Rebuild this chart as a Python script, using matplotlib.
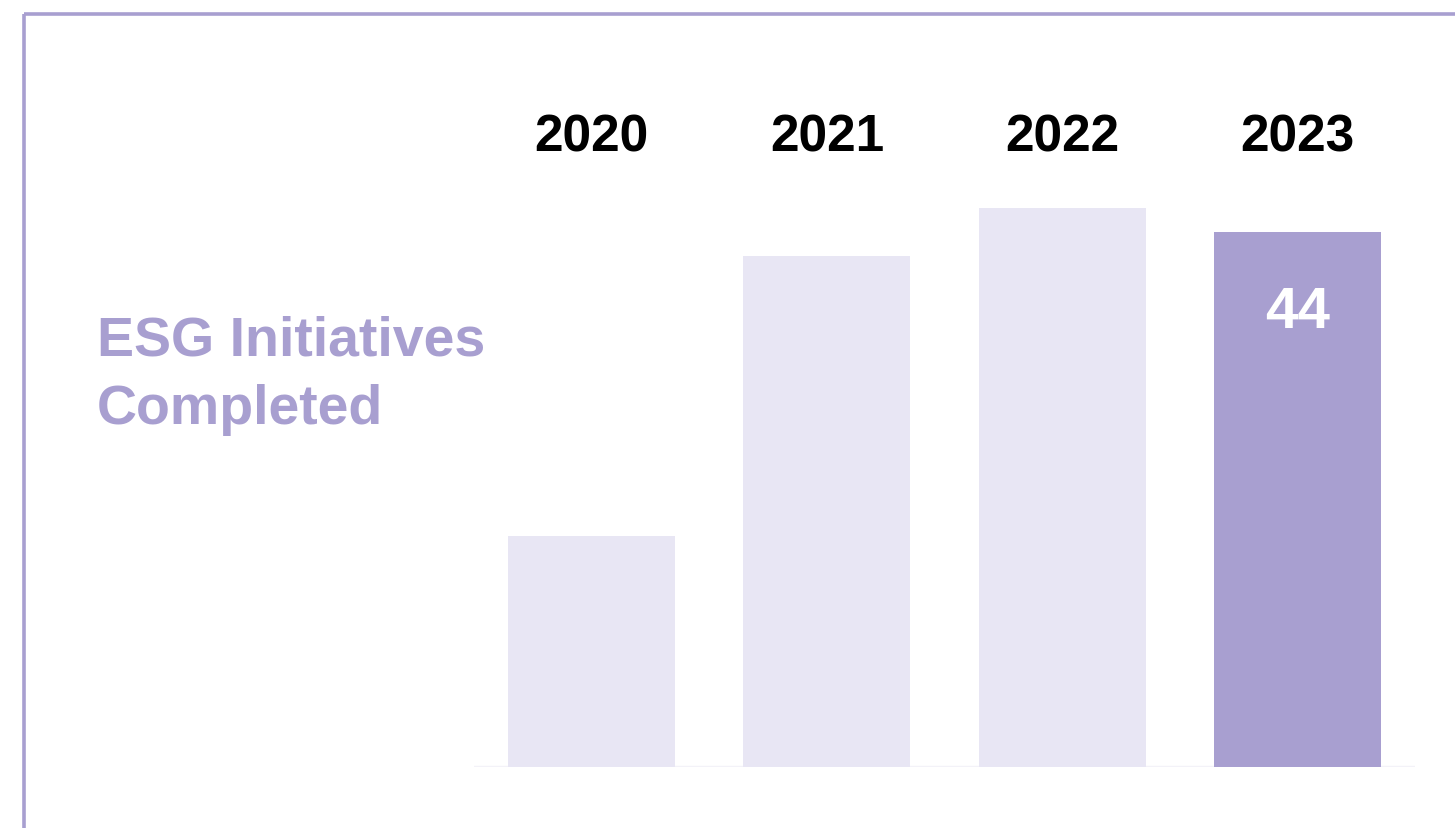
import matplotlib
matplotlib.use("Agg")
import matplotlib.pyplot as plt
from matplotlib.lines import Line2D
from matplotlib.transforms import blended_transform_factory

years = ["2020", "2021", "2022", "2023"]
initiatives = [19, 42, 46, 44]
highlight_year = "2023"

LIGHT = "#E8E6F4"
ACCENT = "#A89FD0"
BASE = "#F3F2F8"

plt.rcParams["font.family"] = ["Liberation Sans", "DejaVu Sans"]

W, H = 1455, 829
fig = plt.figure(figsize=(W / 100, H / 100), dpi=100)
fig.patch.set_facecolor("white")

# frame: top and left lines only
fig.add_artist(Line2D([24 / W, 1.0], [1 - 15 / H, 1 - 15 / H], color=ACCENT, lw=2.6,
                      transform=fig.transFigure, solid_capstyle="butt"))
fig.add_artist(Line2D([24 / W, 24 / W], [1 - 15 / H, 0.0], color=ACCENT, lw=2.6,
                      transform=fig.transFigure, solid_capstyle="butt"))

ax = fig.add_axes([474 / W, (H - 768) / H, 941 / W, 608 / H])
x = list(range(len(years)))
colors = [ACCENT if y == highlight_year else LIGHT for y in years]
ax.bar(x, initiatives, width=0.71, color=colors, zorder=2)
ax.axhline(0, color=BASE, lw=2.4, zorder=1)
ax.set_xlim(-0.5, len(years) - 0.5)
ax.set_ylim(0, 50)
ax.axis("off")

top_tr = blended_transform_factory(ax.transData, fig.transFigure)
for i, (yr, v) in enumerate(zip(years, initiatives)):
    ax.text(i, 1 - 152 / H, yr, transform=top_tr, ha="center", va="baseline",
            fontsize=37, fontweight="bold", color="black")
    if yr == highlight_year:
        ax.text(i, v - 7.8, f"{v}", ha="center", va="baseline", fontsize=42,
                fontweight="bold", color="white")

fig.text(97 / W, 1 - 355 / H, "ESG Initiatives", ha="left", va="baseline",
         fontsize=40, fontweight="bold", color=ACCENT)
fig.text(97 / W, 1 - 424 / H, "Completed", ha="left", va="baseline",
         fontsize=40, fontweight="bold", color=ACCENT)

fig.savefig("out.png", dpi=100, facecolor="white")
